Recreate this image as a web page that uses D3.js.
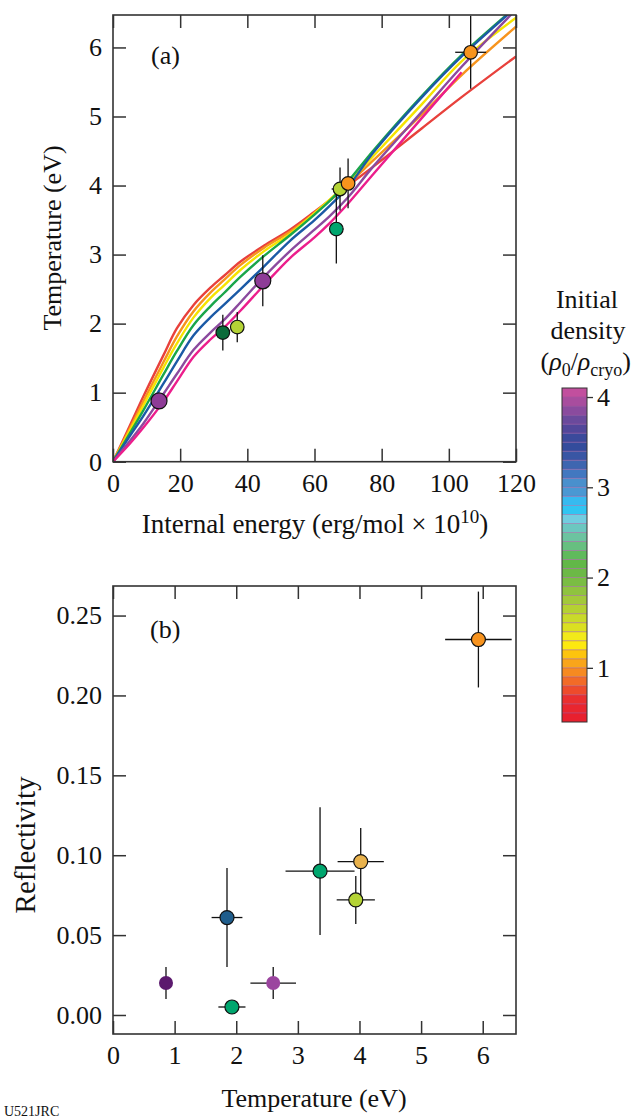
<!DOCTYPE html>
<html><head><meta charset="utf-8">
<script src="https://cdn.jsdelivr.net/npm/d3@7"></script>
<style>
html,body{margin:0;padding:0;background:#fff;}
svg text{font-family:"Liberation Serif","Times New Roman",serif;fill:#111;}
</style></head>
<body>
<svg id="chart" width="632" height="1119"></svg>
<script>
// ---------- DATA ----------
// Panel (a): model curves T(E) for several initial densities
const curveEnergy = [0, 5, 9, 15, 19, 24, 29, 33, 38, 45, 52.7, 60, 64.6, 70, 77.4, 92, 103.8, 120];
const curveRed     = [0, 0.52, 0.94, 1.54, 1.93, 2.27, 2.52, 2.69, 2.90, 3.13, 3.36, 3.62, 3.79, 4.00, 4.27, 4.83, 5.28, 5.87];
const curveOrange  = [0, 0.48, 0.87, 1.44, 1.81, 2.18, 2.45, 2.63, 2.85, 3.10, 3.33, 3.60, 3.79, 4.02, 4.36, 5.03, 5.60, 6.30];
const curveYellow  = [0, 0.45, 0.81, 1.36, 1.71, 2.09, 2.37, 2.55, 2.78, 3.05, 3.30, 3.60, 3.80, 4.04, 4.42, 5.18, 5.80, 6.43];
const curveGreen   = [0, 0.41, 0.74, 1.26, 1.60, 1.98, 2.25, 2.44, 2.68, 2.98, 3.28, 3.58, 3.78, 4.06, 4.50, 5.30, 5.89, 6.59];
const curveBlue    = [0, 0.37, 0.66, 1.13, 1.45, 1.83, 2.09, 2.27, 2.50, 2.83, 3.20, 3.50, 3.71, 3.98, 4.47, 5.28, 5.87, 6.58];
const curvePurple  = [0, 0.30, 0.55, 0.98, 1.27, 1.62, 1.87, 2.05, 2.31, 2.68, 3.05, 3.36, 3.56, 3.83, 4.27, 5.07, 5.72, 6.55];
const curveMagenta = [0, 0.26, 0.49, 0.87, 1.16, 1.52, 1.77, 1.94, 2.19, 2.56, 2.95, 3.25, 3.46, 3.74, 4.16, 4.98, 5.64, null];
const curveColors  = ["#e8413c", "#f7941d", "#f5e400", "#1aa64a", "#1b5aa6", "#8b4a9e", "#ec1e8c"];

// Panel (a): measurements
const aEnergy  = [13.7, 32.7, 37.0, 44.6, 66.5, 67.6, 70.0, 106.5];
const aTemp    = [0.88, 1.87, 1.95, 2.62, 3.37, 3.95, 4.03, 5.93];
const aTempErr = [0, 0.26, 0.22, 0.37, 0.50, 0.31, 0.36, 0.53];
const aEnErr   = [0, 0, 0, 0, 2.1, 2.5, 0, 4.6];
const aColors  = ["#8e3c97", "#0b6b3a", "#b4d335", "#8e3c97", "#00a66e", "#b4d335", "#f7941d", "#f7941d"];

// Panel (b): reflectivity vs temperature
const bTemp    = [0.86, 1.85, 1.93, 2.60, 3.36, 4.02, 3.94, 5.93];
const bRefl    = [0.020, 0.061, 0.005, 0.020, 0.090, 0.096, 0.072, 0.235];
const bTempErr = [0, 0.25, 0.22, 0.37, 0.56, 0.375, 0.31, 0.54];
const bReflErr = [0.010, 0.031, 0, 0.010, 0.040, 0.021, 0.015, 0.030];
const bColors  = ["#5c1a6e", "#1f5d8c", "#00a66e", "#9b459f", "#00a66e", "#e9b24c", "#b4d335", "#f7931e"];
const bOutline = [false, true, true, false, true, true, true, true];

// Tick values
const aXTicks = [0, 20, 40, 60, 80, 100, 120];
const aYTicks = [0, 1, 2, 3, 4, 5, 6];
const bXTicks = [0, 1, 2, 3, 4, 5, 6];
const bYTicks = [0, 0.05, 0.10, 0.15, 0.20, 0.25];
const cbTicks = [1, 2, 3, 4];

// Colour bar bands (bottom -> top), each 0.1 in ρ0/ρcryo
const cbStart = 0.40;
const cbStep = 0.1;
const cbBandColors = ["#e8202e","#e9262f","#ea2f2f","#ee4b2b","#f26b27","#f68a21","#f9a51a","#fdc40e","#fde910","#f2ea1a",
  "#dbe021","#c9da2a","#b5d132","#a3c93a","#8fc33f","#7abd43","#6cb946","#62b848","#60ba5c","#67bf80",
  "#6cc3a0","#6cc7c0","#72cde0","#30c5f2","#36baf0","#4a98d3","#4990cd","#4278c0","#3e66b0","#3956a4",
  "#334c9c","#3b4a9b","#52479a","#6a4a9c","#8a4b9e","#a84d9e","#c24f9e"];

// ---------- DRAW ----------
const svg = d3.select("#chart");
const FS = 26;
const axisCol = "#333";

function frameAxes(g, x, y, xt, yt, fmtY) {
  const [x0, x1] = x.range(), [y0, y1] = y.range();
  const tl = 13;
  const bottom = g.append("g").attr("transform", `translate(0,${y0})`)
    .call(d3.axisBottom(x).tickValues(xt).tickSize(-tl).tickPadding(12).tickFormat(d3.format("d")));
  const top = g.append("g").attr("transform", `translate(0,${y1})`)
    .call(d3.axisTop(x).tickValues(xt).tickSize(-tl).tickFormat(""));
  const left = g.append("g").attr("transform", `translate(${x0},0)`)
    .call(d3.axisLeft(y).tickValues(yt).tickSize(-tl).tickPadding(11).tickFormat(fmtY));
  const right = g.append("g").attr("transform", `translate(${x1},0)`)
    .call(d3.axisRight(y).tickValues(yt).tickSize(-tl).tickFormat(""));
  [bottom, top, left, right].forEach(a => {
    a.select(".domain").remove();
    a.selectAll("line").attr("stroke", axisCol).attr("stroke-width", 1.5);
    a.selectAll("text").style("font-size", FS + "px").attr("fill", "#111")
      .style("font-family", "'Liberation Serif','Times New Roman',serif");
  });
  g.append("rect").attr("x", x0).attr("y", y1).attr("width", x1 - x0).attr("height", y0 - y1)
    .attr("fill", "none").attr("stroke", axisCol).attr("stroke-width", 1.6);
}

// ---- Panel (a)
const xa = d3.scaleLinear().domain([0, 120]).range([113, 516]);
const ya = d3.scaleLinear().domain([0, 6.47]).range([461.7, 15]);
const ga = svg.append("g");
svg.append("defs").append("clipPath").attr("id", "clipA").append("rect")
  .attr("x", 113).attr("y", 15).attr("width", 403).attr("height", 446.7);

const curves = [curveRed, curveOrange, curveYellow, curveGreen, curveBlue, curvePurple, curveMagenta];
const line = d3.line().defined(d => d[1] !== null).x(d => xa(d[0])).y(d => ya(d[1]))
  .curve(d3.curveCatmullRom.alpha(0.5));
const cg = ga.append("g").attr("clip-path", "url(#clipA)");
curves.forEach((c, i) => {
  cg.append("path").datum(curveEnergy.map((e, k) => [e, c[k]]))
    .attr("d", line).attr("fill", "none").attr("stroke", curveColors[i])
    .attr("stroke-width", 2.4).attr("stroke-linejoin", "round");
});

// error bars (a)
const ea = ga.append("g").attr("stroke", "#111").attr("stroke-width", 1.3);
aEnergy.forEach((e, i) => {
  if (aTempErr[i] > 0) ea.append("line").attr("x1", xa(e)).attr("x2", xa(e))
    .attr("y1", ya(aTemp[i] - aTempErr[i])).attr("y2", ya(aTemp[i] + aTempErr[i]));
  if (aEnErr[i] > 0) ea.append("line").attr("y1", ya(aTemp[i])).attr("y2", ya(aTemp[i]))
    .attr("x1", xa(e - aEnErr[i])).attr("x2", xa(e + aEnErr[i]));
});
ga.append("g").selectAll("circle").data(aEnergy).join("circle")
  .attr("cx", d => xa(d)).attr("cy", (d, i) => ya(aTemp[i]))
  .attr("r", (d, i) => aColors[i] === "#8e3c97" ? 8 : 6.8)
  .attr("fill", (d, i) => aColors[i]).attr("stroke", "#111").attr("stroke-width", 1.2);

frameAxes(ga, xa, ya, aXTicks, aYTicks, d3.format("d"));
ga.append("text").attr("x", 151).attr("y", 64).style("font-size", FS + "px").text("(a)");
const xt = ga.append("text").attr("x", 315).attr("y", 533).attr("text-anchor", "middle").style("font-size", "27px");
xt.append("tspan").text("Internal energy (erg/mol × 10");
xt.append("tspan").attr("dy", -10).style("font-size", "19px").text("10");
xt.append("tspan").attr("dy", 10).text(")");
ga.append("text").attr("transform", "translate(61,238) rotate(-90)").attr("text-anchor", "middle")
  .style("font-size", FS + "px").text("Temperature (eV)");

// ---- Panel (b)
const xb = d3.scaleLinear().domain([0, 6.54]).range([113, 516]);
const yb = d3.scaleLinear().domain([-0.0119, 0.2685]).range([1034, 586]);
const gb = svg.append("g");
const eb = gb.append("g").attr("stroke", "#111").attr("stroke-width", 1.3);
bTemp.forEach((t, i) => {
  if (bReflErr[i] > 0) eb.append("line").attr("x1", xb(t)).attr("x2", xb(t))
    .attr("y1", yb(bRefl[i] - bReflErr[i])).attr("y2", yb(bRefl[i] + bReflErr[i]));
  if (bTempErr[i] > 0) eb.append("line").attr("y1", yb(bRefl[i])).attr("y2", yb(bRefl[i]))
    .attr("x1", xb(t - bTempErr[i])).attr("x2", xb(t + bTempErr[i]));
});
gb.append("g").selectAll("circle").data(bTemp).join("circle")
  .attr("cx", d => xb(d)).attr("cy", (d, i) => yb(bRefl[i])).attr("r", 7)
  .attr("fill", (d, i) => bColors[i])
  .attr("stroke", (d, i) => bOutline[i] ? "#111" : "none").attr("stroke-width", 1.2);
frameAxes(gb, xb, yb, bXTicks, bYTicks, d3.format(".2f"));
gb.append("text").attr("x", 150).attr("y", 638).style("font-size", FS + "px").text("(b)");
gb.append("text").attr("x", 314).attr("y", 1107).attr("text-anchor", "middle")
  .style("font-size", FS + "px").text("Temperature (eV)");
gb.append("text").attr("transform", "translate(35,845) rotate(-90)").attr("text-anchor", "middle")
  .style("font-size", "29px").text("Reflectivity");

// ---- Colour bar
const cbTop = 388, cbBot = 722;
const cy = d3.scaleLinear().domain([cbStart, cbStart + cbStep * cbBandColors.length]).range([cbBot, cbTop]);
const cbx = 562, cbw = 25;
const gc = svg.append("g");
gc.selectAll("rect.band").data(cbBandColors).join("rect").attr("class", "band")
  .attr("x", cbx).attr("width", cbw)
  .attr("y", (d, i) => cy(cbStart + cbStep * (i + 1)))
  .attr("height", (d, i) => cy(cbStart + cbStep * i) - cy(cbStart + cbStep * (i + 1)))
  .attr("fill", d => d);
gc.selectAll("line.sep").data(cbBandColors.slice(1)).join("line").attr("class", "sep")
  .attr("x1", cbx).attr("x2", cbx + cbw)
  .attr("y1", (d, i) => cy(cbStart + cbStep * (i + 1))).attr("y2", (d, i) => cy(cbStart + cbStep * (i + 1)))
  .attr("stroke", "#a0559e").attr("stroke-width", 0.7).attr("opacity", 0.8);
gc.append("rect").attr("x", cbx).attr("y", cbTop).attr("width", cbw).attr("height", cbBot - cbTop)
  .attr("fill", "none").attr("stroke", "#333").attr("stroke-width", 1);
const cax = gc.append("g").attr("transform", `translate(${cbx + cbw},0)`)
  .call(d3.axisRight(cy).tickValues(cbTicks).tickSize(6).tickPadding(4).tickFormat(d3.format("d")));
cax.select(".domain").remove();
cax.selectAll("line").attr("stroke", "#333").attr("stroke-width", 1.3);
cax.selectAll("text").style("font-size", "26px").attr("fill", "#111")
  .style("font-family", "'Liberation Serif','Times New Roman',serif");
gc.append("text").attr("x", 587).attr("y", 308).attr("text-anchor", "middle").style("font-size", "26px").text("Initial");
gc.append("text").attr("x", 588).attr("y", 339).attr("text-anchor", "middle").style("font-size", "26px").text("density");
const rt = gc.append("text").attr("x", 631).attr("y", 370).attr("text-anchor", "end").style("font-size", "26px");
rt.append("tspan").text("(");
rt.append("tspan").style("font-style", "italic").text("ρ");
rt.append("tspan").attr("dy", 6).style("font-size", "18px").text("0");
rt.append("tspan").attr("dy", -6).text("/");
rt.append("tspan").style("font-style", "italic").text("ρ");
rt.append("tspan").attr("dy", 6).style("font-size", "18px").text("cryo");
rt.append("tspan").attr("dy", -6).text(")");

svg.append("text").attr("x", 4).attr("y", 1116).style("font-size", "14px").text("U521JRC");
</script>
</body></html>
